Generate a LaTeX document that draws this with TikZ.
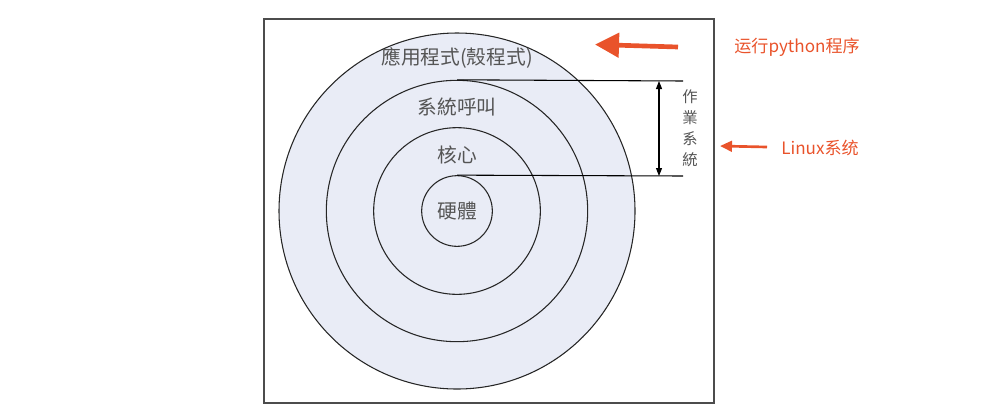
\documentclass[tikz,border=0pt]{standalone}
\usepackage{fontspec}
\usetikzlibrary{arrows.meta}
\newfontfamily\tcfont{Noto Sans CJK TC}
\newfontfamily\scfont{Noto Sans CJK SC}
\definecolor{ringfill}{RGB}{233,236,246}
\definecolor{labelgray}{RGB}{85,85,85}
\definecolor{noteorange}{RGB}{233,83,43}

\begin{document}
\begin{tikzpicture}[x=0.75pt,y=-0.75pt,
  ring/.style={circle, draw=black!85, fill=ringfill, line width=0.8pt, inner sep=0pt},
  layer/.style={text=labelgray, font=\tcfont\fontsize{14.8}{17}\selectfont, inner sep=0pt},
  note/.style={text=noteorange, font=\scfont\fontsize{12.8}{15}\selectfont, inner sep=0pt}]
\useasboundingbox (0,0) rectangle (987,412);

\draw[black!70, line width=0.8pt] (264,19) rectangle (714,403);

\node[ring, minimum size=267pt] (app) at (457,211) {};
\node[ring, minimum size=196pt] (call) at (457,211) {};
\node[ring, minimum size=125pt] (kern) at (457,211) {};
\node[ring, minimum size=53pt] (hw) at (457,211) {};

\node[layer] (applbl) at (457,58) {應用程式(殼程式)};
\node[layer] (calllbl) at (457,107) {系統呼叫};
\node[layer] (kernlbl) at (457,155) {核心};
\node[layer] (hwlbl) at (457,211) {硬體};

\coordinate (ostop) at (683,81);
\coordinate (osbot) at (683,176);
\coordinate (osup) at (659,81);
\coordinate (osdown) at (659,176);
\draw[line width=0.8pt] (call.north) -- (ostop);
\draw[line width=0.8pt] (hw.north) -- (osbot);
\draw[line width=0.8pt, {Triangle[length=6pt,width=4.5pt]}-{Triangle[length=6pt,width=4.5pt]}] (osup) -- (osdown);
\node[text=labelgray, font=\tcfont\fontsize{11.5}{15.8}\selectfont, align=center, inner sep=0pt] (oslbl) at (690,128) {作\\業\\系\\統};

\node[note] (run) at (797,47) {运行python程序};
\coordinate (runtail) at (678,47);
\coordinate (runtip) at (595,44.5);
\draw[noteorange, line width=3.5pt, -{Triangle[length=18pt,width=18pt]}] (runtail) -- (runtip);

\node[note] (linux) at (820,148) {Linux系统};
\coordinate (linuxtail) at (767,147);
\coordinate (linuxtip) at (720,146);
\draw[noteorange, line width=2pt, -{Triangle[length=9pt,width=8pt]}] (linuxtail) -- (linuxtip);
\end{tikzpicture}
\end{document}
